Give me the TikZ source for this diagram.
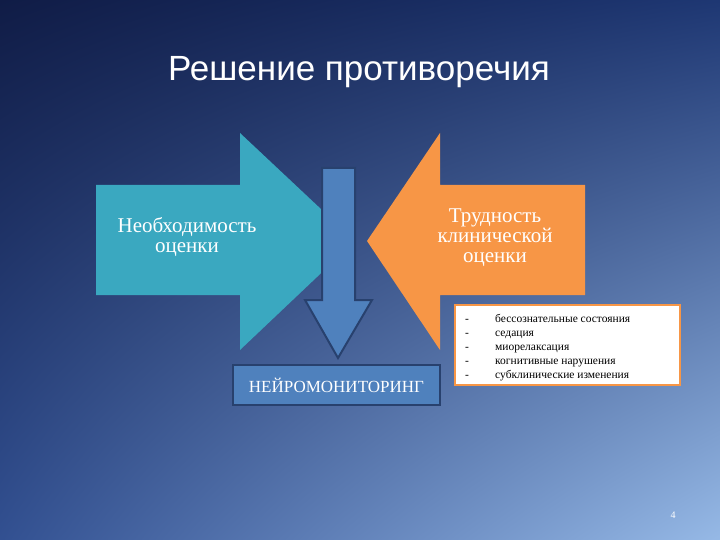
\documentclass[tikz,border=0pt]{standalone}
\usepackage{fontspec}
\usetikzlibrary{shadings}
\setmainfont{Liberation Serif}
\newfontfamily\titlefont{Liberation Sans}
\definecolor{bgul}{RGB}{16,28,70}
\definecolor{bgur}{RGB}{30,55,115}
\definecolor{bgll}{RGB}{50,80,145}
\definecolor{bglr}{RGB}{150,185,230}
\definecolor{tealc}{RGB}{58,168,192}
\definecolor{orng}{RGB}{247,150,70}
\definecolor{blu}{RGB}{79,129,189}
\definecolor{dblu}{RGB}{40,65,110}
\begin{document}
\begin{tikzpicture}[x=1pt,y=-1pt,
  lbl/.style={text=white,font=\fontsize{21}{20}\selectfont,align=center},
  lst/.style={anchor=base west,font=\fontsize{11.5}{11.5}\selectfont,inner sep=0pt}]
\useasboundingbox (0,0) rectangle (720,540);
\shade[upper left=bgul,upper right=bgur,lower left=bgll,lower right=bglr] (0,0) rectangle (720,540);
\node[text=white,font=\titlefont\fontsize{35}{35}\selectfont] (title) at (359,72) {Решение противоречия};
% left arrow
\fill[tealc] (96,185) -- (240,185) -- (240,133) -- (355,241) -- (240,350) -- (240,295) -- (96,295) -- cycle;
\node[lbl] (l) at (187,237) {Необходимость\\оценки};
% right arrow
\fill[orng] (585,185) -- (440,185) -- (440,133) -- (367,241) -- (440,350) -- (440,295) -- (585,295) -- cycle;
\node[lbl] (r) at (495,238) {Трудность\\клинической\\оценки};
% down arrow
\draw[fill=blu,draw=dblu,line width=2pt]
 (322,168) -- (355,168) -- (355,300) -- (372,300) -- (338,358) -- (305,300) -- (322,300) -- cycle;
\node[draw=dblu,line width=2pt,fill=blu,minimum width=207pt,minimum height=40pt,inner sep=0pt,
 text=white,font=\fontsize{17}{17}\selectfont] (nm) at (336.5,385) {НЕЙРОМОНИТОРИНГ};
% list box
\node[draw=orng,line width=2.5pt,fill=white,minimum width=225pt,minimum height=80pt,inner sep=0pt] (box) at (567.5,345) {};
\foreach \t [count=\i] in {бессознательные состояния,седация,миорелаксация,когнитивные нарушения,субклинические изменения}{
  \node[lst] (d\i) at (465,308+\i*14) {-};
  \node[lst] (t\i) at (495,308+\i*14) {\t};
}
\node[text=white,font=\fontsize{10}{10}\selectfont] (pn) at (673,515) {4};
\end{tikzpicture}
\end{document}
